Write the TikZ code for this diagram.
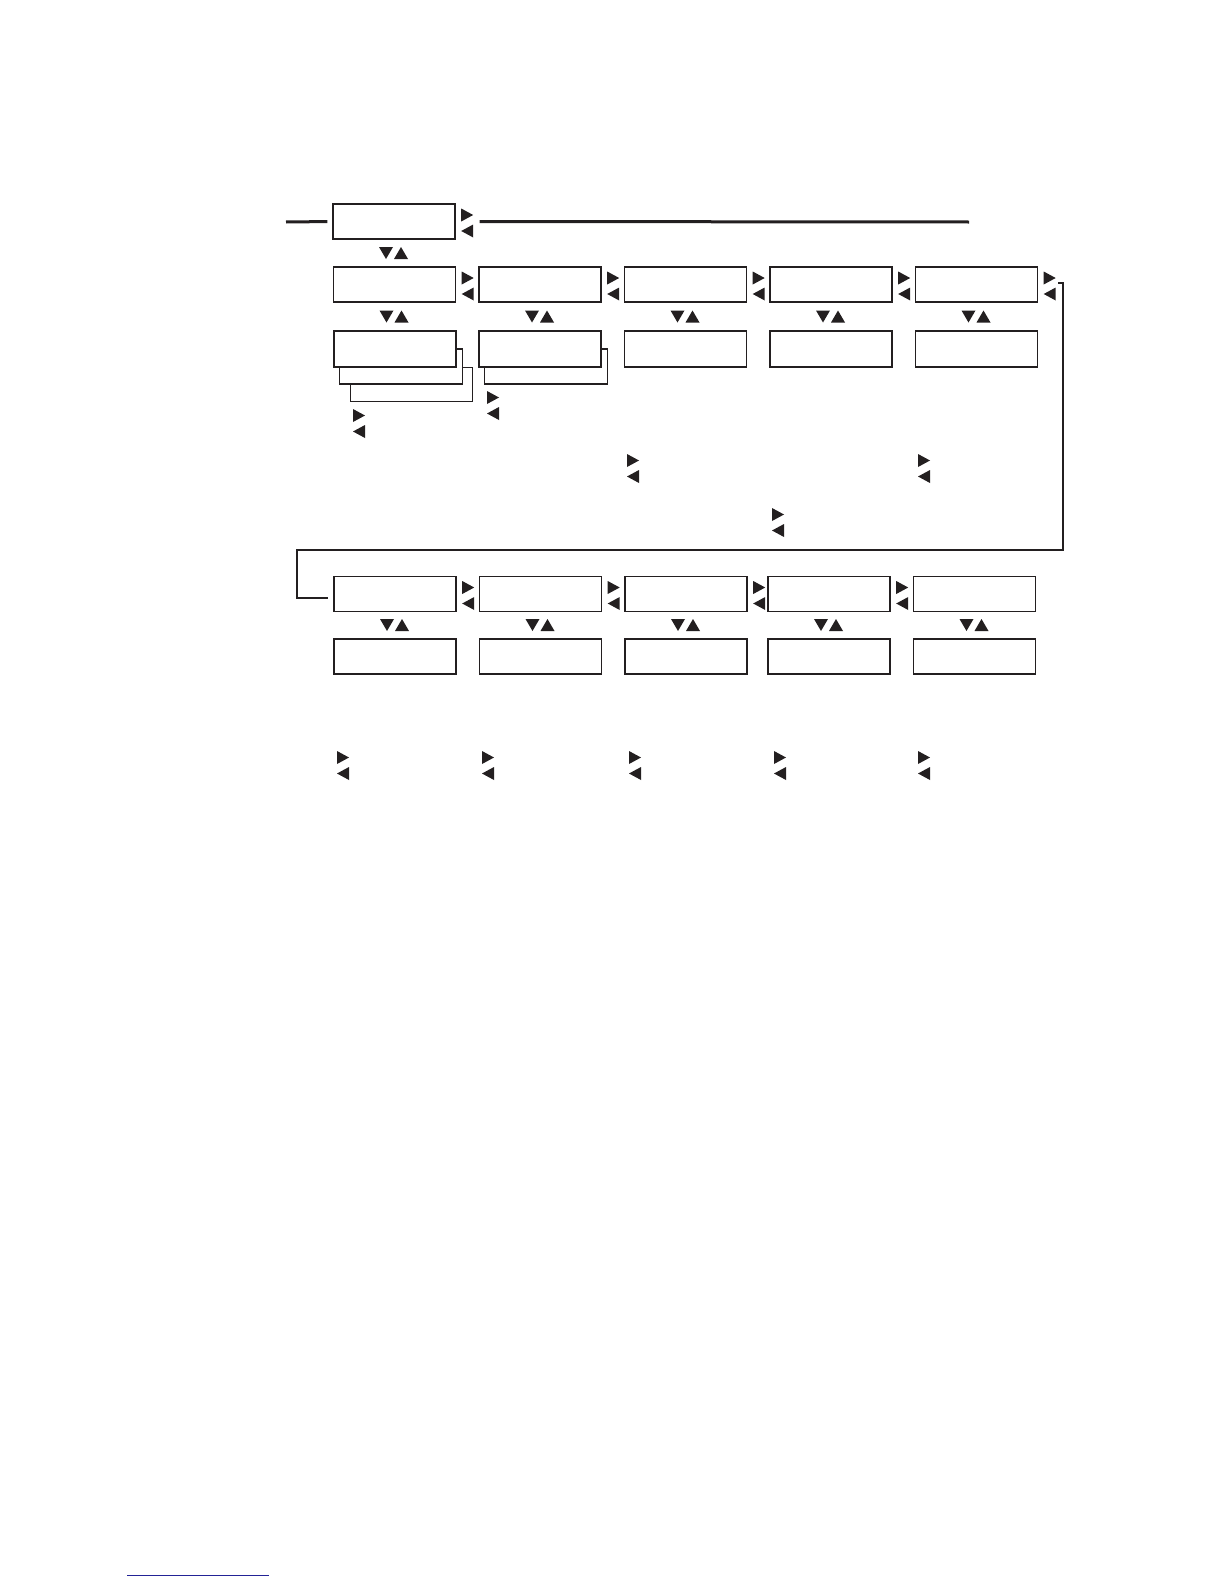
\documentclass[tikz,border=0pt]{standalone}
\usetikzlibrary{positioning}
\definecolor{inchiostro}{RGB}{35,31,32}
\definecolor{linkblu}{RGB}{35,35,150}
\tikzset{
  menubox/.style={draw=inchiostro, fill=white, line width=1.4pt,
    minimum width=122pt, minimum height=35pt, inner sep=0pt},
  selbox/.style={menubox, line width=2.7pt, minimum height=36pt},
  pics/lr/.style={code={
    \fill[inchiostro] (0,-13) -- (12,-6.5) -- (0,0) -- cycle;
    \fill[inchiostro] (12,3) -- (0,9.5) -- (12,16) -- cycle;}},
  pics/du/.style={code={
    \fill[inchiostro] (-15,-6) -- (-1,-6) -- (-8,6) -- cycle;
    \fill[inchiostro] (0,6) -- (14,6) -- (7,-6) -- cycle;}},
}
\begin{document}
\begin{tikzpicture}[x=1pt, y=-1pt]
  \useasboundingbox (0,0) rectangle (1224,1584);

  % --- Menu principale ---
  \node[menubox] (top) at (394,221.5) {};
  \pic at ([xshift=5.5pt]top.east) {lr};
  \coordinate (inL) at (286,222);
  \coordinate (outR) at (969,222);
  \draw[inchiostro, line width=3pt, shorten >=5pt] (inL) -- (top.west);
  \draw[inchiostro, line width=3pt, shorten <=24pt] (top.east) -- (outR);
  \pic at (394,253) {du};

  % --- Prima riga ---
  \foreach \i/\x in {1/394.5,2/540,3/685.5,4/831,5/976.5} {
    \node[menubox] (a\i) at (\x,284.5) {};
    \pic at ([xshift=5.5pt]a\i.east) {lr};
    \pic at (\x,316.5) {du};
  }

  % --- Seconda riga (con sottomenu impilati) ---
  \node[menubox, line width=1pt, minimum height=34pt] (b1dietro2) at (411,384) {};
  \node[menubox, line width=1.7pt, minimum width=123pt] (b1dietro) at (401,366.5) {};
  \node[selbox] (b1) at (395,349) {};
  \node[menubox, line width=1.7pt, minimum width=123pt] (b2dietro) at (546,366.5) {};
  \node[selbox] (b2) at (540,349) {};
  \foreach \i/\x in {3/685.5,4/831,5/976.5}
    \node[menubox, minimum height=36pt] (b\i) at (\x,349) {};

  % frecce sparse
  \foreach \p in {(353,422),(487,404),(627,467),(918,467),(772,521)}
    \pic at \p {lr};

  % --- Collegamento alla terza riga ---
  \coordinate (giroA) at (1058,283);
  \coordinate (giroB) at (328,598);
  \draw[inchiostro, line width=1.6pt] (giroA) -| (1063,550) -| (297,598) -- (giroB);

  % --- Terza e quarta riga ---
  \foreach \i/\x in {1/395,2/540.5,3/686,4/829,5/974.5} {
    \node[menubox] (c\i) at (\x,594) {};
    \node[menubox] (d\i) at (\x,656.5) {};
    \pic at (\x,625) {du};
  }
  \foreach \i in {1,...,4}
    \pic at ([xshift=5.5pt]c\i.east) {lr};

  \foreach \x in {337,482,629,774,918}
    \pic at (\x,764) {lr};

  % link in fondo
  \coordinate (linkA) at (127,1575);
  \coordinate (linkB) at (269,1575);
  \draw[linkblu, line width=1pt] (linkA) -- (linkB);

\end{tikzpicture}
\end{document}
